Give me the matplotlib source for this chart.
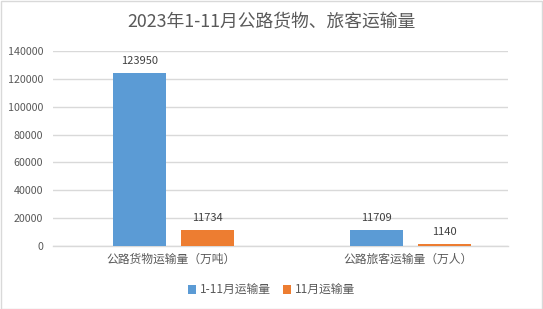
import matplotlib
matplotlib.use("Agg")
import matplotlib.pyplot as plt
from matplotlib.patches import Rectangle
import numpy as np

plt.rcParams['font.family'] = ['Noto Sans CJK SC', 'DejaVu Sans']

title = "2023年1-11月公路货物、旅客运输量"
categories = ["公路货物运输量（万吨）", "公路旅客运输量（万人）"]
series_names = ["1-11月运输量", "11月运输量"]
values_total = [123950, 11709]
values_nov = [11734, 1140]
yticks = [0, 20000, 40000, 60000, 80000, 100000, 120000, 140000]

blue = "#5B9BD5"
orange = "#ED7D31"
text_c = "#595959"
grid_c = "#D9D9D9"

fig = plt.figure(figsize=(5.43, 3.09), dpi=100)
ax = fig.add_axes([53/543, 1-246/309, 455/543, 195/309])

x = np.array([0.0, 1.0])
w = 0.224
off = 0.144
b1 = ax.bar(x - off, values_total, w, color=blue, label=series_names[0], zorder=3)
b2 = ax.bar(x + off, values_nov, w, color=orange, label=series_names[1], zorder=3)

for bars in (b1, b2):
    for r in bars:
        ax.annotate(f"{int(r.get_height())}", (r.get_x() + r.get_width()/2, r.get_height()),
                    xytext=(0, 5), textcoords="offset points", ha="center", va="bottom",
                    fontsize=8, color="#404040")

ax.set_xlim(-0.51, 1.414)
ax.set_ylim(0, 140000)
ax.set_yticks(yticks)
ax.set_yticklabels([str(v) for v in yticks], fontsize=7.7, color=text_c)
ax.set_xticks(x - 0.01)
ax.set_xticklabels(categories, fontsize=8.5, color=text_c)
ax.tick_params(axis='both', length=0)
ax.tick_params(axis='y', pad=7)
ax.tick_params(axis='x', pad=5)
ax.yaxis.grid(True, color=grid_c, linewidth=1, zorder=0)
for s in ['top', 'right', 'left']:
    ax.spines[s].set_visible(False)
ax.spines['bottom'].set_color(grid_c)
ax.spines['bottom'].set_linewidth(1)

fig.text(0.5, 1-22/309, title, ha="center", va="center", fontsize=12.8, color=text_c)

fig.legend(handles=[b1, b2], labels=series_names, loc="center", bbox_to_anchor=(0.5, 1-290/309),
           ncol=2, frameon=False, fontsize=8.5, handlelength=0.7, handleheight=0.7,
           handletextpad=0.3, columnspacing=1.0, labelcolor=text_c)

fig.patches.append(Rectangle((0.5/543, 0.5/309), 1-1.5/543, 1-1.5/309, transform=fig.transFigure,
                             fill=False, edgecolor=grid_c, linewidth=1))

fig.savefig("out.png", dpi=100)
